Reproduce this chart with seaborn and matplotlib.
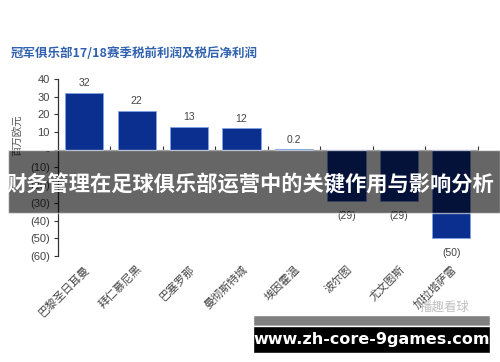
import matplotlib
matplotlib.use("Agg")
import matplotlib.pyplot as plt
import seaborn as sns
from matplotlib.patches import Rectangle
from matplotlib.ticker import FuncFormatter

# data (million euro)
clubs = ["巴黎圣日耳曼", "拜仁慕尼黑", "巴塞罗那", "曼彻斯特城", "埃因霍温", "波尔图", "尤文图斯", "加拉塔萨雷"]
profits = [32, 22, 13, 12, 0.2, -29, -29, -50]
y_ticks = [40, 30, 20, 10, 0, -10, -20, -30, -40, -50, -60]

sns.set_style("white")
plt.rcParams["font.family"] = ["Noto Sans CJK SC", "DejaVu Sans"]

fig = plt.figure(figsize=(5, 3.62), dpi=100)
ax = fig.add_axes([0.116, 0.293, 0.839, 0.489])

sns.barplot(x=clubs, y=profits, color="#0a2f8f", saturation=1, width=0.73,
            edgecolor="#7fa4e6", linewidth=0.6, ax=ax)

def acct(v, pos=None):
    if v == 0:
        return "-"
    if v < 0:
        return f"({abs(v):g})"
    return f"{v:g}"

for i, v in enumerate(profits):
    off = 3.5 if v >= 0 else -7
    ax.annotate(acct(v), (i, v), xytext=(0, off), textcoords="offset points",
                ha="center", va="bottom" if v >= 0 else "top",
                fontsize=7.5, color="#444444", family=["Liberation Sans", "DejaVu Sans"])

ax.set_ylim(-60, 40)
ax.set_xlim(-0.5, len(clubs) - 0.5)
ax.set_yticks(y_ticks)
ax.yaxis.set_major_formatter(FuncFormatter(acct))
ax.tick_params(axis="y", left=True, length=3, width=0.8, color="#333333",
               labelsize=8, labelcolor="#444444", pad=3)
for lab in ax.get_yticklabels():
    lab.set_family(["Liberation Sans", "DejaVu Sans"])

for s in ["top", "right", "bottom"]:
    ax.spines[s].set_visible(False)
ax.spines["left"].set_color("#333333")
ax.spines["left"].set_linewidth(0.9)

# category labels below plot
ax.set_xticks(range(len(clubs)))
ax.set_xticklabels(clubs, rotation=45, ha="right", rotation_mode="anchor",
                   fontsize=8, color="#444444")
ax.tick_params(axis="x", bottom=False, pad=2)

# zero line with ticks between categories
zero = ax.secondary_xaxis(0.6)
zero.set_xticks([i + 0.5 for i in range(len(clubs))])
zero.set_xticklabels([])
zero.tick_params(axis="x", length=3, width=0.8, color="#333333")
zero.spines["bottom"].set_color("#333333")
zero.spines["bottom"].set_linewidth(0.9)

ax.set_ylabel("百万欧元", fontsize=7.5, color="#555555")
ax.yaxis.set_label_coords(-0.085, 0.68)

fig.text(0.022, 0.851, "冠军俱乐部17/18赛季税前利润及税后净利润",
         fontsize=9, fontweight="bold", color="#3162b0", va="center")

# dark banner with headline
fig.patches.append(Rectangle((0.016, 0.4116), 0.984, 0.174, transform=fig.transFigure,
                             facecolor="black", alpha=0.6, zorder=10))
fig.text(0.5, 0.49, "财务管理在足球俱乐部运营中的关键作用与影响分析",
         fontsize=15.3, fontweight="bold", color="white", ha="center", va="center", zorder=11)

# watermark
fig.text(0.89, 0.152, "播趣看球", fontsize=9, color="#c0c0c0", ha="center", va="center")

# url box
fig.patches.append(Rectangle((0.506, 0.1), 0.474, 0.03, transform=fig.transFigure,
                             facecolor="#808080", zorder=10))
fig.patches.append(Rectangle((0.506, 0.025), 0.474, 0.075, transform=fig.transFigure,
                             facecolor="black", zorder=10))
fig.text(0.743, 0.062, "www.zh-core-9games.com", fontsize=11.5, fontweight="bold",
         color="white", ha="center", va="center", zorder=11, family=["DejaVu Sans"])

fig.savefig("out.png", dpi=100)
